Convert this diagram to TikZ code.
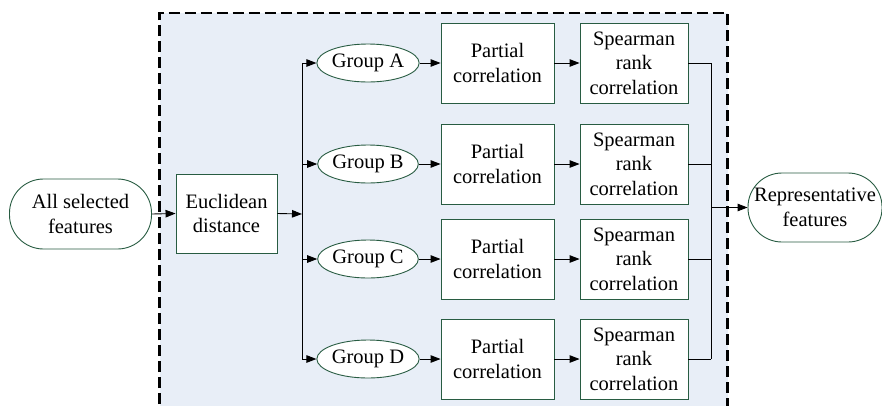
\documentclass[tikz,border=0pt]{standalone}
\usepackage{fontspec}
\setmainfont{Liberation Serif}
\usetikzlibrary{arrows.meta,shapes.geometric,positioning}
\definecolor{nodeborder}{RGB}{40,92,66}
\definecolor{panelfill}{RGB}{232,238,247}
\tikzset{
  txt/.style={font=\fontsize{20.5}{24.5}\selectfont, align=center, inner sep=0pt},
  stadium/.style={txt, draw=nodeborder, line width=0.9pt, fill=white, rounded corners=34pt, minimum height=70pt},
  procbox/.style={txt, draw=nodeborder, line width=0.9pt, fill=white, minimum height=80pt},
  grp/.style={txt, draw=nodeborder, line width=0.9pt, fill=white, ellipse, minimum width=92pt, minimum height=38pt},
  conn/.style={line width=0.9pt, black},
  arr/.style={conn, -{Triangle[length=10pt,width=7.5pt]}},
}
\begin{document}
\begin{tikzpicture}[x=1pt,y=-1pt]
\clip (0,0) rectangle (882,405);
\useasboundingbox (0,0) rectangle (882,405);
% panel
\draw[fill=panelfill, line width=2.7pt, dash pattern=on 11pt off 5pt] (159.5,420) -- (159.5,13) -- (727.5,13) -- (727.5,420);
% left/right nodes
\node[stadium, minimum width=142pt] (all) at (80.5,214) {All selected\\features};
\node[procbox, minimum width=101pt, minimum height=79pt] (euc) at (226.5,213.5) {Euclidean\\distance};
\node[stadium, minimum width=134pt, minimum height=69pt] (rep) at (815,207.5) {Representative\\features};
% split / merge coordinates
\coordinate (splitT) at (302,63);
\coordinate (splitB) at (302,359);
\coordinate (splitM) at (302,214);
\coordinate (mergeT) at (711,63);
\coordinate (mergeB) at (711,359);
\coordinate (mergeM) at (711,207.5);
\draw[conn] (splitT) -- (splitB);
\draw[conn] (mergeT) -- (mergeB);
\draw[arr] (all.east) -- (euc.west);
\draw[arr] (euc.east) -- (splitM);
\draw[arr] (mergeM) -- (rep.west);
% rows
\foreach \g/\y in {A/63,B/164,C/259,D/359}{
  \node[grp] (g\g) at (368,\y) {Group \g};
  \node[procbox, minimum width=113pt] (p\g) at (497.5,\y) {Partial\\correlation};
  \node[procbox, minimum width=108pt] (s\g) at (634,\y) {Spearman\\rank\\correlation};
  \coordinate (l\g) at (302,\y);
  \coordinate (r\g) at (711,\y);
  \draw[arr] (l\g) -- (g\g.west);
  \draw[arr] (g\g.east) -- (p\g.west);
  \draw[arr] (p\g.east) -- (s\g.west);
  \draw[conn] (s\g.east) -- (r\g);
}
\end{tikzpicture}
\end{document}
